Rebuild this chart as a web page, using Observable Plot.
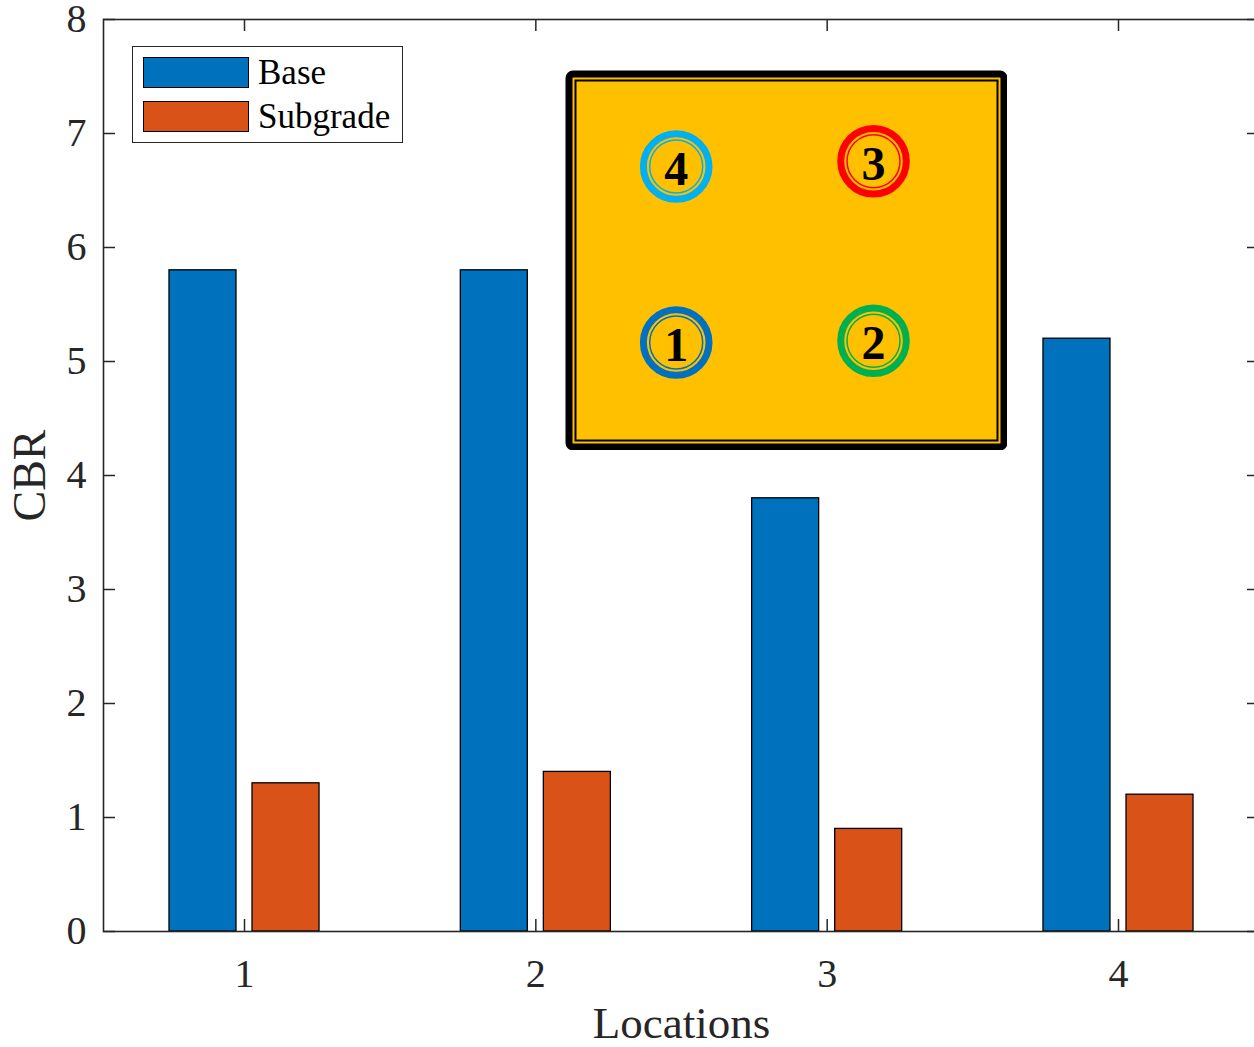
<!DOCTYPE html>
<html>
<head>
<meta charset="utf-8">
<script src="https://cdn.jsdelivr.net/npm/d3@7"></script>
<script src="https://cdn.jsdelivr.net/npm/@observablehq/plot@0.6"></script>
<style>
  html, body { margin: 0; padding: 0; background: #fff; overflow: hidden; }
  #wrap { position: relative; width: 1254px; height: 1047px; overflow: hidden; font-family: "Liberation Serif", "Times New Roman", serif; }
  #legend { position: absolute; left: 132px; top: 46px; width: 269px; height: 95px; border: 1px solid #262626; background: #fff; }
  .lg-row { position: absolute; left: 10px; height: 31px; display: flex; align-items: center; }
  .lg-sw { width: 104px; height: 29px; border: 1px solid #000; }
  .lg-tx { margin-left: 9px; font-size: 35px; color: #000; line-height: 31px; }
  #inset { position: absolute; left: 565px; top: 70px; }
</style>
</head>
<body>
<div id="wrap">
  <div id="chart"></div>
  <div id="legend"></div>
  <div id="inset"></div>
</div>
<script>
// ---- data ----
const locations = [1, 2, 3, 4];
const seriesNames = ["Base", "Subgrade"];
const baseCBR = [5.8, 5.8, 3.8, 5.2];
const subgradeCBR = [1.3, 1.4, 0.9, 1.2];
const seriesColors = ["#0072BD", "#D95319"];
const yTicks = [0, 1, 2, 3, 4, 5, 6, 7, 8];
const xTicks = [1, 2, 3, 4];

// inset schematic (location layout)
const insetLabels = ["1", "2", "3", "4"];
const insetCol = [1, 2, 2, 1];
const insetRow = [1, 1.01, 2.03, 2];
const insetRingColors = ["#0070C0", "#00B050", "#FF0000", "#00B0F0"];

// ---- build table ----
const rows = [];
locations.forEach((loc, i) => {
  rows.push({loc, series: seriesNames[0], value: baseCBR[i]});
  rows.push({loc, series: seriesNames[1], value: subgradeCBR[i]});
});
const barW = 0.23, barOff = 0.1425;
const offs = {[seriesNames[0]]: -barOff, [seriesNames[1]]: barOff};

const W = 1254, H = 1047, mL = 103, mR = -5, mT = 19, mB = 116;
const plotW = W - mR - mL, plotH = H - mB - mT;
const ink = "#262626";
const font = "Liberation Serif";

const chart = Plot.plot({
  width: W, height: H,
  marginLeft: mL, marginRight: mR, marginTop: mT, marginBottom: mB,
  style: {fontFamily: font, background: "transparent", color: ink},
  x: {type: "linear", domain: [0.516, 4.484], axis: null},
  y: {domain: [0, 8], axis: null},
  color: {domain: seriesNames, range: seriesColors},
  marks: [
    Plot.rectY(rows, {
      x1: d => d.loc + offs[d.series] - barW / 2,
      x2: d => d.loc + offs[d.series] + barW / 2,
      y: "value", fill: "series", stroke: "#000", strokeWidth: 1.3
    }),
    Plot.frame({stroke: ink, strokeWidth: 1.6}),
    // inward ticks (MATLAB style), bottom/top
    Plot.tickX(xTicks, {x: d => d, stroke: ink, strokeWidth: 1.5, insetTop: plotH - 12}),
    Plot.tickX(xTicks, {x: d => d, stroke: ink, strokeWidth: 1.5, insetBottom: plotH - 12}),
    // left/right
    Plot.tickY(yTicks, {y: d => d, stroke: ink, strokeWidth: 1.5, insetRight: plotW - 12}),
    Plot.tickY(yTicks, {y: d => d, stroke: ink, strokeWidth: 1.5, insetLeft: plotW - 12}),
    Plot.axisX(xTicks, {tickSize: 0, tickPadding: 27, fontSize: 40, fill: ink, tickFormat: d => String(d), label: null}),
    Plot.axisY(yTicks, {tickSize: 0, tickPadding: 17, fontSize: 40, fill: ink, tickFormat: d => String(d), label: null}),
    Plot.text(["Locations"], {frameAnchor: "bottom", textAnchor: "middle", dy: 106, fontSize: 45, fill: ink}),
    Plot.text(["CBR"], {frameAnchor: "left", textAnchor: "middle", dx: -73, rotate: -90, fontSize: 46, fill: ink})
  ]
});
document.getElementById("chart").appendChild(chart);

// ---- legend ----
const legend = document.getElementById("legend");
seriesNames.forEach((name, i) => {
  const row = document.createElement("div");
  row.className = "lg-row";
  row.style.top = (10 + i * 44) + "px";
  const sw = document.createElement("div");
  sw.className = "lg-sw";
  sw.style.background = seriesColors[i];
  const tx = document.createElement("span");
  tx.className = "lg-tx";
  tx.textContent = name;
  row.appendChild(sw); row.appendChild(tx);
  legend.appendChild(row);
});

// ---- inset schematic ----
const insetData = insetLabels.map((lab, i) => ({lab, col: insetCol[i], row: insetRow[i], color: insetRingColors[i]}));
const inset = Plot.plot({
  width: 442, height: 380,
  margin: 0,
  style: {background: "transparent", fontFamily: font},
  x: {domain: [0.439, 2.679], axis: null},
  y: {domain: [0.386, 2.546], axis: null},
  marks: [
    Plot.frame({fill: "#FFC000", stroke: "#000", strokeWidth: 7, inset: 3.5, rx: 4}),
    Plot.frame({stroke: "#000", strokeWidth: 2, inset: 10}),
    Plot.dot(insetData, {x: "col", y: "row", r: 32.8, stroke: "color", strokeWidth: 7, fill: "none"}),
    Plot.dot(insetData, {x: "col", y: "row", r: 26.5, stroke: "color", strokeWidth: 1.5, fill: "none"}),
    Plot.text(insetData, {x: "col", y: "row", text: "lab", fontSize: 48, fontWeight: "bold", fill: "#000", dy: 3})
  ]
});
document.getElementById("inset").appendChild(inset);
</script>
</body>
</html>
